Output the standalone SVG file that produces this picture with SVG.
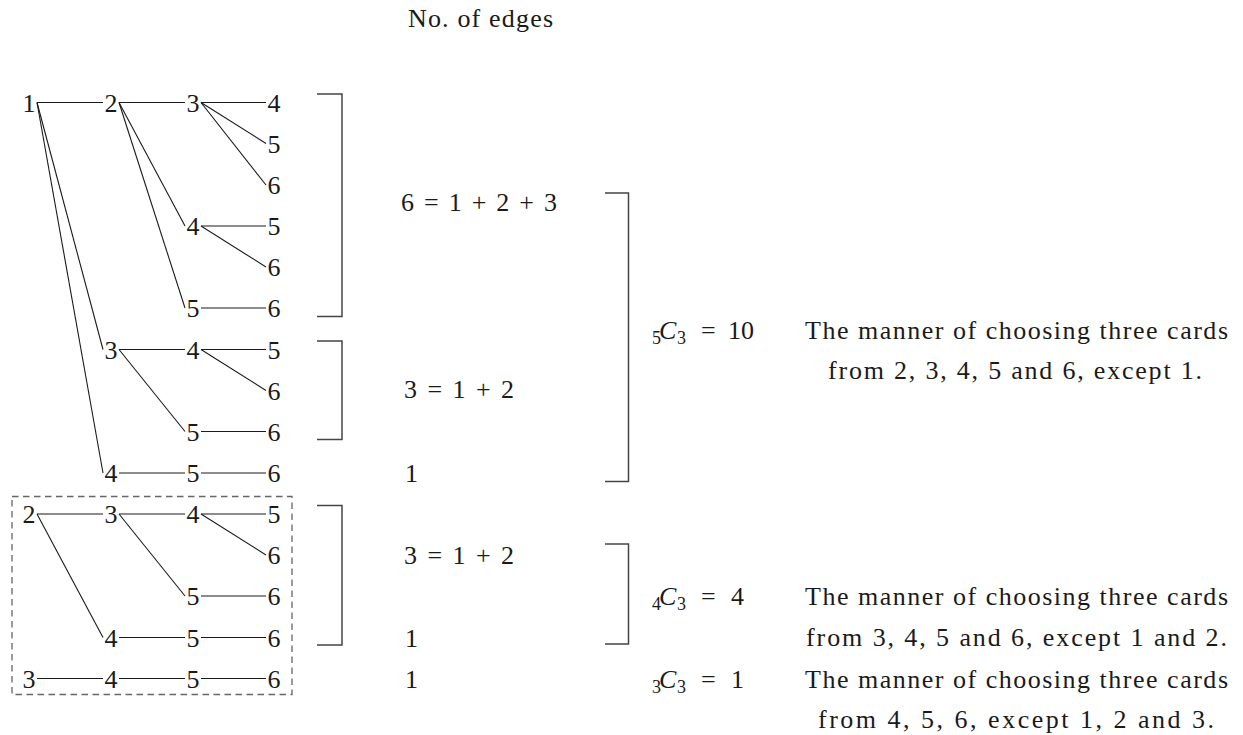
<svg xmlns="http://www.w3.org/2000/svg" width="1243" height="735" viewBox="0 0 1243 735">
<style>
text{font-family:"Liberation Serif","Times New Roman",serif;font-size:26px;fill:#1a1a1a}
.n text{text-anchor:middle}
.sub{font-size:18px}
.it{font-style:italic}
.mid{text-anchor:middle}
#edges line{stroke:#1a1a1a;stroke-width:1.1}
.br{fill:none;stroke:#444;stroke-width:1.5}
.box{fill:none;stroke:#666;stroke-width:1.3;stroke-dasharray:6.5 4.5}
</style>
<rect width="1243" height="735" fill="#fff"/>
<text id="header" x="408" y="26.5" textLength="145" lengthAdjust="spacing">No. of edges</text>

<g id="edges">
<line x1="37" y1="102.5" x2="103" y2="102.5"/>
<line x1="119" y1="102.5" x2="185" y2="102.5"/>
<line x1="201" y1="102.5" x2="266" y2="102.5"/>
<line x1="201" y1="102.5" x2="266" y2="143.5"/>
<line x1="201" y1="102.5" x2="266" y2="185"/>
<line x1="119" y1="102.5" x2="185" y2="226"/>
<line x1="201" y1="226" x2="266" y2="226"/>
<line x1="201" y1="226" x2="266" y2="267"/>
<line x1="119" y1="102.5" x2="185" y2="308"/>
<line x1="201" y1="308" x2="266" y2="308"/>
<line x1="37" y1="102.5" x2="103" y2="349.5"/>
<line x1="119" y1="349.5" x2="185" y2="349.5"/>
<line x1="201" y1="349.5" x2="266" y2="349.5"/>
<line x1="201" y1="349.5" x2="266" y2="390.5"/>
<line x1="119" y1="349.5" x2="185" y2="431.5"/>
<line x1="201" y1="431.5" x2="266" y2="431.5"/>
<line x1="37" y1="102.5" x2="103" y2="473"/>
<line x1="119" y1="473" x2="185" y2="473"/>
<line x1="201" y1="473" x2="266" y2="473"/>
<line x1="37" y1="514" x2="103" y2="514"/>
<line x1="119" y1="514" x2="185" y2="514"/>
<line x1="201" y1="514" x2="266" y2="514"/>
<line x1="201" y1="514" x2="266" y2="555"/>
<line x1="119" y1="514" x2="185" y2="596"/>
<line x1="201" y1="596" x2="266" y2="596"/>
<line x1="37" y1="514" x2="103" y2="637.5"/>
<line x1="119" y1="637.5" x2="185" y2="637.5"/>
<line x1="201" y1="637.5" x2="266" y2="637.5"/>
<line x1="37" y1="678.5" x2="103" y2="678.5"/>
<line x1="119" y1="678.5" x2="185" y2="678.5"/>
<line x1="201" y1="678.5" x2="266" y2="678.5"/>
</g>

<g class="n">
<g id="n1A"><text x="29" y="111.5">1</text></g>
<g id="n1B"><text x="111" y="111.5">2</text></g>
<g id="n1C"><text x="193" y="111.5">3</text></g>
<g id="n1D"><text x="274" y="111.5">4</text></g>
<g id="n2D"><text x="274" y="152.5">5</text></g>
<g id="n3D"><text x="274" y="194">6</text></g>
<g id="n4C"><text x="193" y="235">4</text></g>
<g id="n4D"><text x="274" y="235">5</text></g>
<g id="n5D"><text x="274" y="276">6</text></g>
<g id="n6C"><text x="193" y="317">5</text></g>
<g id="n6D"><text x="274" y="317">6</text></g>
<g id="n7B"><text x="111" y="358.5">3</text></g>
<g id="n7C"><text x="193" y="358.5">4</text></g>
<g id="n7D"><text x="274" y="358.5">5</text></g>
<g id="n8D"><text x="274" y="399.5">6</text></g>
<g id="n9C"><text x="193" y="440.5">5</text></g>
<g id="n9D"><text x="274" y="440.5">6</text></g>
<g id="n10B"><text x="111" y="482">4</text></g>
<g id="n10C"><text x="193" y="482">5</text></g>
<g id="n10D"><text x="274" y="482">6</text></g>
<g id="n11A"><text x="29" y="523">2</text></g>
<g id="n11B"><text x="111" y="523">3</text></g>
<g id="n11C"><text x="193" y="523">4</text></g>
<g id="n11D"><text x="274" y="523">5</text></g>
<g id="n12D"><text x="274" y="564">6</text></g>
<g id="n13C"><text x="193" y="605">5</text></g>
<g id="n13D"><text x="274" y="605">6</text></g>
<g id="n14B"><text x="111" y="646.5">4</text></g>
<g id="n14C"><text x="193" y="646.5">5</text></g>
<g id="n14D"><text x="274" y="646.5">6</text></g>
<g id="n15A"><text x="29" y="687.5">3</text></g>
<g id="n15B"><text x="111" y="687.5">4</text></g>
<g id="n15C"><text x="193" y="687.5">5</text></g>
<g id="n15D"><text x="274" y="687.5">6</text></g>
</g>

<g id="dashed-box"><rect class="box" x="12" y="496.5" width="280" height="198"/></g>

<g id="brackets">
<path class="br" d="M317 94 H342 V316.5 H317"/>
<path class="br" d="M317 341 H342 V439.5 H317"/>
<path class="br" d="M317 505.5 H342 V645 H317"/>
<path class="br" d="M605 193 H628.5 V481.5 H605"/>
<path class="br" d="M605 544 H628.5 V644 H605"/>
</g>

<g id="counts">
<text x="401" y="211" textLength="156" lengthAdjust="spacing">6 = 1 + 2 + 3</text>
<text x="404" y="397.5" textLength="110" lengthAdjust="spacing">3 = 1 + 2</text>
<text x="405" y="482">1</text>
<text x="404" y="564" textLength="110" lengthAdjust="spacing">3 = 1 + 2</text>
<text x="405" y="646.5">1</text>
<text x="405" y="687.5">1</text>
</g>

<g id="c53">
<text class="sub" x="652" y="344">5</text>
<text class="it" x="659" y="339">C</text>
<text class="sub" x="677" y="344">3</text>
<text x="701" y="339" font-size="28">=</text>
<text x="728" y="339">10</text>
</g>
<g id="c43">
<text class="sub" x="652" y="610">4</text>
<text class="it" x="659" y="605">C</text>
<text class="sub" x="677" y="610">3</text>
<text x="701" y="605" font-size="28">=</text>
<text x="731" y="605">4</text>
</g>
<g id="c33">
<text class="sub" x="652" y="692.5">3</text>
<text class="it" x="659" y="687.5">C</text>
<text class="sub" x="677" y="692.5">3</text>
<text x="701" y="687.5" font-size="28">=</text>
<text x="731" y="687.5">1</text>
</g>

<g id="notes">
<text class="mid" x="1016.5" y="339" textLength="423" lengthAdjust="spacing">The manner of choosing three cards</text>
<text class="mid" x="1015" y="379" textLength="374" lengthAdjust="spacing">from 2, 3, 4, 5 and 6, except 1.</text>
<text class="mid" x="1016.5" y="605" textLength="423" lengthAdjust="spacing">The manner of choosing three cards</text>
<text class="mid" x="1016.5" y="646" textLength="421" lengthAdjust="spacing">from 3, 4, 5 and 6, except 1 and 2.</text>
<text class="mid" x="1016.5" y="687.5" textLength="423" lengthAdjust="spacing">The manner of choosing three cards</text>
<text class="mid" x="1016" y="728" textLength="396" lengthAdjust="spacing">from 4, 5, 6, except 1, 2 and 3.</text>
</g>
</svg>
